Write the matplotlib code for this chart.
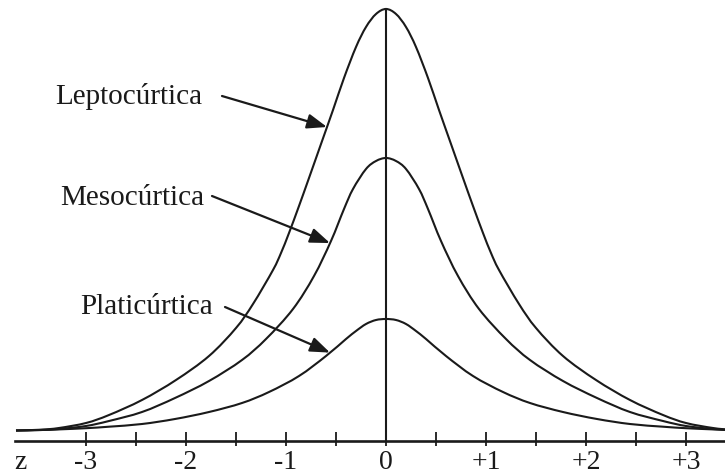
import numpy as np
import matplotlib
matplotlib.use('Agg')
import matplotlib.pyplot as plt
from matplotlib.path import Path
from matplotlib.patches import PathPatch

# alturas (mitad derecha, la curva es simétrica)
z_lepto = [0.00, 0.10, 0.20, 0.30, 0.42, 0.53, 0.65, 0.77, 0.87, 0.97, 1.05, 1.13, 1.33, 1.50,
           1.77, 2.10, 2.44, 2.77, 3.00, 3.27, 3.45, 3.70]
h_lepto = [422, 417, 404, 384, 353, 321, 287, 253, 225, 198, 178, 161, 127, 103,
           75, 51, 31, 16, 8, 3.0, 1.3, 0.5]

z_meso = [0.00, 0.10, 0.20, 0.33, 0.42, 0.55, 0.72, 0.93, 1.20, 1.44, 1.77, 2.11, 2.44,
          2.77, 3.00, 3.27, 3.45, 3.70]
h_meso = [273, 270, 262, 242, 222, 190, 155, 122, 92, 71, 50, 33, 19,
          10, 5, 2.0, 1.0, 0.5]

z_plati = [0.00, 0.10, 0.20, 0.30, 0.40, 0.60, 0.87, 1.17, 1.44, 1.77, 2.11, 2.44, 2.77,
           3.00, 3.27, 3.45, 3.70]
h_plati = [112, 111, 107, 100, 92, 75, 55, 39, 28, 19, 12, 7, 4.3,
           2.8, 1.6, 1.0, 0.5]

etiquetas = ['Leptocúrtica', 'Mesocúrtica', 'Platicúrtica']
ticks_mayores = [-3, -2, -1, 0, 1, 2, 3]
ticks_texto = ['-3', '-2', '-1', '0', '+1', '+2', '+3']
ticks_menores = [-2.5, -1.5, -0.5, 0.5, 1.5, 2.5]


def simetrica(z, h):
    z = np.array(z)
    h = np.array(h)
    return np.concatenate([-z[::-1], z[1:]]), np.concatenate([h[::-1], h[1:]])


def trazo_suave(z, h):
    # pasa los puntos leidos como curvas bezier (catmull-rom)
    p = np.column_stack([z, h])
    verts = [p[0]]
    codes = [Path.MOVETO]
    n = len(p)
    for i in range(n - 1):
        p0 = p[i - 1] if i > 0 else p[i]
        p1 = p[i]
        p2 = p[i + 1]
        p3 = p[i + 2] if i + 2 < n else p[i + 1]
        verts += [p1 + (p2 - p0) / 6, p2 - (p3 - p1) / 6, p2]
        codes += [Path.CURVE4] * 3
    return Path(verts, codes)


plt.rcParams['font.family'] = ['Liberation Serif', 'DejaVu Serif']

fig = plt.figure(figsize=(7.25, 4.77), dpi=100)
ax = fig.add_axes([0, 0, 1, 1])
ax.set_xlim(-3.86, 3.39)
ax.set_ylim(-45, 432)
ax.axis('off')

curvas = [simetrica(z_lepto, h_lepto), simetrica(z_meso, h_meso), simetrica(z_plati, h_plati)]
for zz, hh in curvas:
    ax.add_patch(PathPatch(trazo_suave(zz, hh), facecolor='none',
                           edgecolor='#1a1a1a', lw=1.5))

# eje z
y_eje = -9.5
ax.plot([-3.71, 3.39], [y_eje, y_eje], color='#1a1a1a', lw=1.9)
ax.vlines(ticks_mayores + ticks_menores, y_eje - 5.5, y_eje + 8.5, color='#1a1a1a', lw=1.3)
ax.plot([0, 0], [y_eje, max(h_lepto)], color='#1a1a1a', lw=1.5)

for t, s in zip(ticks_mayores, ticks_texto):
    ax.text(t, -31, s, ha='center', va='center', fontsize=20, color='#1a1a1a')
ax.text(-3.66, -31, 'z', ha='center', va='center', fontsize=20, color='#1a1a1a')

# etiquetas con flechas
pos_texto = [(-3.31, 335), (-3.26, 234), (-3.06, 125)]
inicio_flecha = [(-1.64, 335), (-1.74, 235), (-1.61, 124)]
punta_z = [-0.59, -0.56, -0.56]
for (zz, hh), lab, pt, ini, pz in zip(curvas, etiquetas, pos_texto, inicio_flecha, punta_z):
    ax.text(pt[0], pt[1], lab, ha='left', va='center', fontsize=21, color='#1a1a1a')
    ph = np.interp(pz, zz, hh)
    ax.annotate('', xy=(pz, ph), xytext=ini,
                arrowprops=dict(arrowstyle='-|>,head_length=0.8,head_width=0.3',
                                mutation_scale=15, color='#1a1a1a', lw=1.6,
                                shrinkA=0, shrinkB=0))

fig.savefig('out.png', dpi=100)
